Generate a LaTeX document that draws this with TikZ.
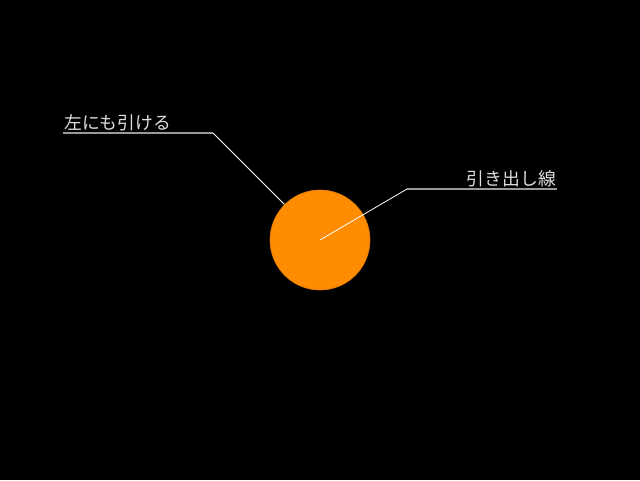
\documentclass[tikz,border=0pt]{standalone}
\usepackage{fontspec}
\newfontfamily\jp{Noto Sans CJK JP}
\begin{document}
\begin{tikzpicture}[x=1pt,y=-1pt,
  lbl/.style={text=black!13!white,font=\jp\fontsize{17.8}{19}\selectfont,inner sep=0pt},
  hline/.style={draw=black!40!white,line width=1.2pt},
  sline/.style={draw=white,line width=0.8pt}]
\useasboundingbox[fill=black] (0,0) rectangle (640,480);
\node[circle,fill={rgb,255:red,255;green,140;blue,0},draw={rgb,255:red,220;green,120;blue,0},line width=0.6pt,minimum size=100pt,inner sep=0pt] (sun) at (320,240) {};
\coordinate (lk) at (213,133);
\coordinate (le) at (63,133);
\coordinate (rk) at (407,189);
\coordinate (re) at (557,189);
\node[lbl,anchor=base west] (ltxt) at (64,129) {左にも引ける};
\node[lbl,anchor=base east] (rtxt) at (556,185) {引き出し線};
\draw[sline] (sun.135) -- (lk);
\draw[hline] (lk) -- (le);
\draw[sline] (sun.center) -- (rk);
\draw[hline] (rk) -- (re);
\end{tikzpicture}
\end{document}
